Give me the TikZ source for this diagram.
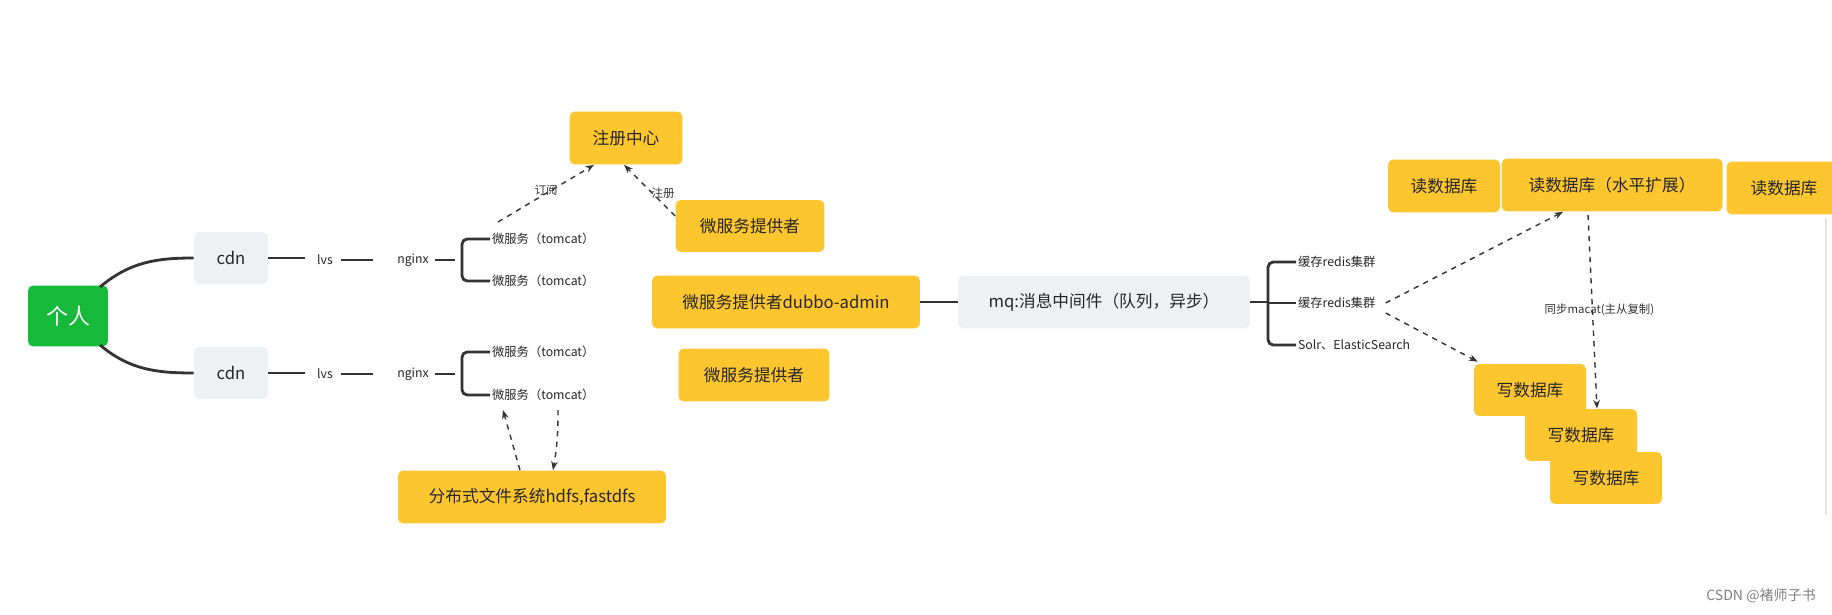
\documentclass[tikz,border=0pt]{standalone}
\usepackage{fontspec}
\setmainfont{Noto Sans CJK SC}
\usetikzlibrary{arrows.meta}
\definecolor{topicorange}{HTML}{FDC62E}
\definecolor{topicgreen}{HTML}{15BA3A}
\definecolor{subgray}{HTML}{EEF1F4}
\definecolor{linegray}{HTML}{333333}
\begin{document}
\begin{tikzpicture}[x=0.02cm,y=-0.02cm,
  box/.style={rounded corners=3pt,inner sep=0pt,font=\fontsize{9.5}{10}\selectfont,text=black!85},
  hot/.style={box,fill=topicorange},
  soft/.style={box,fill=subgray},
  leaf/.style={inner sep=1pt,font=\fontsize{7}{8}\selectfont,text=black!85},
  link/.style={draw=linegray,line width=1.6pt},
  dep/.style={draw=linegray,thick,dashed,-{Stealth[length=5pt]}},
  note/.style={font=\fontsize{6.5}{7}\selectfont,text=black!80}]
\useasboundingbox (0,0) rectangle (1832,615);

% root and first level
\node[box,fill=topicgreen,text=white,minimum width=1.6cm,minimum height=1.22cm,font=\fontsize{12.5}{13}\selectfont] (me) at (68,316) {个人};
\node[soft,minimum width=1.48cm,minimum height=1.04cm] (cdnA) at (231,258) {cdn};
\node[soft,minimum width=1.48cm,minimum height=1.04cm] (cdnB) at (231,373) {cdn};
\draw[link] (100,287) to[out=40,in=180] (cdnA.west);
\draw[link] (100,345) to[out=-40,in=180] (cdnB.west);

% upper chain
\node[leaf] (lvsA) at (325,260) {lvs};
\node[leaf] (ngxA) at (413,260) {nginx};
\node[leaf,anchor=west] (tcA1) at (490,239) {微服务（tomcat）};
\node[leaf,anchor=west] (tcA2) at (490,281) {微服务（tomcat）};
\draw[link] (cdnA.east) -- ++(37,0);
\draw[link] ([xshift=0.12cm]lvsA.east) -- ++(32,0);
\draw[link] ([xshift=0.08cm]ngxA.east) -- ++(20,0);
\draw[link,rounded corners=3pt] (tcA1.west) -- ++(-28,0) |- (tcA2.west);

% lower chain
\node[leaf] (lvsB) at (325,374) {lvs};
\node[leaf] (ngxB) at (413,374) {nginx};
\node[leaf,anchor=west] (tcB1) at (490,352) {微服务（tomcat）};
\node[leaf,anchor=west] (tcB2) at (490,395) {微服务（tomcat）};
\draw[link] (cdnB.east) -- ++(37,0);
\draw[link] ([xshift=0.12cm]lvsB.east) -- ++(32,0);
\draw[link] ([xshift=0.08cm]ngxB.east) -- ++(20,0);
\draw[link,rounded corners=3pt] (tcB1.west) -- ++(-28,0) |- (tcB2.west);

% registry and providers
\node[hot,minimum width=2.26cm,minimum height=1.06cm] (reg) at (626,138) {注册中心};
\node[hot,minimum width=2.98cm,minimum height=1.04cm] (provA) at (750,226) {微服务提供者};
\node[hot,minimum width=5.36cm,minimum height=1.06cm] (admin) at (786,302) {微服务提供者dubbo-admin};
\node[hot,minimum width=3.02cm,minimum height=1.06cm] (provB) at (754,375) {微服务提供者};
\node[hot,minimum width=5.36cm,minimum height=1.06cm] (dfs) at (532,497) {分布式文件系统hdfs,fastdfs};
\coordinate (subFrom) at (498,222);
\draw[dep] (subFrom) -- ([xshift=-0.64cm]reg.south) node[note,pos=0.5,yshift=2pt] {订阅};
\draw[dep] ([yshift=0.2cm]provA.west) -- ([xshift=-0.04cm]reg.south) node[note,pos=0.45,right=-4pt] {注册};
\draw[dep] ([xshift=-0.24cm]dfs.north) -- ([xshift=0.26cm,yshift=-0.3cm]tcB2.west);
\draw[dep] ([xshift=1.36cm,yshift=-0.3cm]tcB2.west) to[bend left=5] ([xshift=0.42cm]dfs.north);

% message queue
\node[soft,minimum width=5.84cm,minimum height=1.06cm] (mq) at (1104,302) {mq:消息中间件（队列，异步）};
\draw[link] (admin.east) -- (mq.west);
\node[leaf,anchor=west] (rdA) at (1296,262) {缓存redis集群};
\node[leaf,anchor=west] (rdB) at (1296,303) {缓存redis集群};
\node[leaf,anchor=west] (solr) at (1296,345) {Solr、ElasticSearch};
\draw[link] (mq.east) -- ++(18,0);
\draw[link,rounded corners=3pt] (rdA.west) -- ++(-28,0) -- ++(0,83) -- (solr.west);
\draw[link] ([xshift=-0.56cm]rdB.west) -- (rdB.west);

% databases
\node[hot,minimum width=2.24cm,minimum height=1.06cm] (rdbA) at (1444,186) {读数据库};
\node[hot,minimum width=4.42cm,minimum height=1.06cm] (rdbB) at (1612,185) {读数据库（水平扩展）};
\node[hot,minimum width=2.3cm,minimum height=1.06cm] (rdbC) at (1784,188) {读数据库};
\node[hot,minimum width=2.24cm,minimum height=1.04cm] (wdbA) at (1530,390) {写数据库};
\node[hot,minimum width=2.24cm,minimum height=1.04cm] (wdbB) at (1581,435) {写数据库};
\node[hot,minimum width=2.24cm,minimum height=1.04cm] (wdbC) at (1606,478) {写数据库};
\draw[dep] ([xshift=0.16cm]rdB.east) -- ([xshift=-0.98cm]rdbB.south);
\draw[dep] ([xshift=0.16cm,yshift=-0.2cm]rdB.east) -- ([xshift=0.08cm,yshift=0.04cm]wdbA.north west);
\draw[dep] ([xshift=-0.48cm,yshift=-0.06cm]rdbB.south) -- ([xshift=0.32cm]wdbB.north) node[note,pos=0.49,xshift=4pt] {同步macat(主从复制)};

% side edge and watermark
\draw[black!10,line width=1pt] (1826,218) -- (1826,515);
\node[font=\fontsize{8}{9}\selectfont,text=black!50,anchor=east] (mark) at (1822,596) {CSDN @褚师子书};
\end{tikzpicture}
\end{document}
